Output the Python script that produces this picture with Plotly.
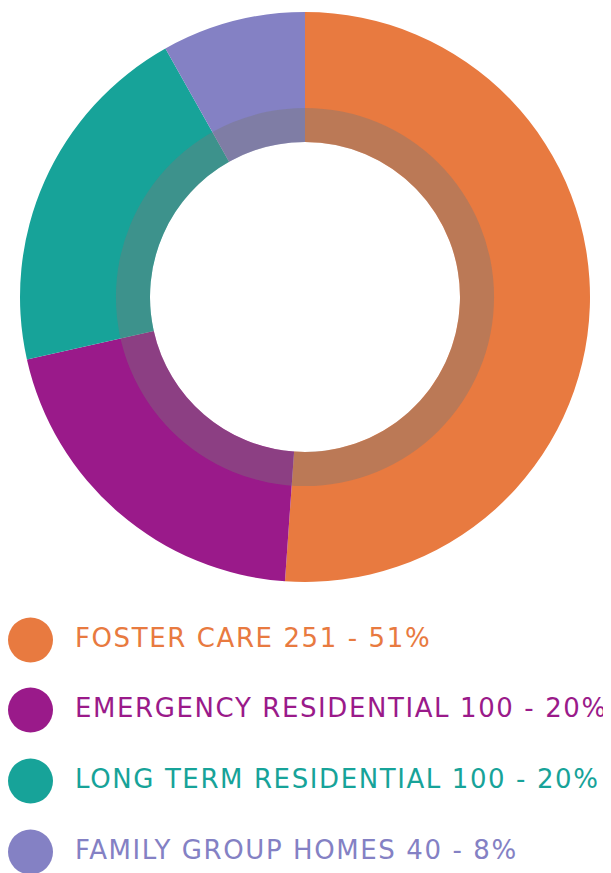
import plotly.graph_objects as go

categories = ["FOSTER CARE", "EMERGENCY RESIDENTIAL", "LONG TERM RESIDENTIAL", "FAMILY GROUP HOMES"]
values = [251, 100, 100, 40]
percents = ["51%", "20%", "20%", "8%"]
colors = ["#E87A40", "#9A1A8A", "#17A399", "#8481C4"]

W, H = 611, 873
OFF = 8  # page body margin in the browser
cx, cy = 305 - OFF, 297 - OFF
r_out, r_band, r_hole = 285, 189, 155

def dom(r):
    return dict(x=[(cx - r) / W, (cx + r) / W], y=[(H - cy - r) / H, (H - cy + r) / H])

fig = go.Figure()
fig.add_trace(go.Pie(
    labels=categories, values=values, marker=dict(colors=colors, line=dict(width=0)),
    hole=r_hole / r_out, sort=False, direction="clockwise", rotation=0,
    textinfo="none", hoverinfo="label+value+percent", domain=dom(r_out), showlegend=False,
))
fig.add_trace(go.Pie(
    labels=["band"], values=[1], marker=dict(colors=["rgba(120,120,120,0.4)"], line=dict(width=0)),
    hole=r_hole / r_band, sort=False, textinfo="none", hoverinfo="skip",
    domain=dom(r_band), showlegend=False,
))

legend_y = [640, 710, 781, 852]
fig.add_trace(go.Scatter(
    x=[30.5] * len(categories), y=legend_y, mode="markers",
    marker=dict(size=45, color=colors, line=dict(width=0)),
    hoverinfo="skip", showlegend=False,
))
for cat, v, p, c, y in zip(categories, values, percents, colors, legend_y):
    fig.add_annotation(x=73, y=y - 2, xref="x", yref="y",
                       text=f'<span style="letter-spacing:1.6px">{cat} {v} - {p}</span>',
                       showarrow=False, xanchor="left", yanchor="middle",
                       font=dict(family="DejaVu Sans", size=26, color=c))

fig.update_xaxes(range=[OFF, W + OFF], visible=False, fixedrange=True)
fig.update_yaxes(range=[H + OFF, OFF], visible=False, fixedrange=True)
fig.update_layout(width=W, height=H, margin=dict(l=0, r=0, t=0, b=0),
                  paper_bgcolor="white", plot_bgcolor="white")
fig.write_html("out.html")
